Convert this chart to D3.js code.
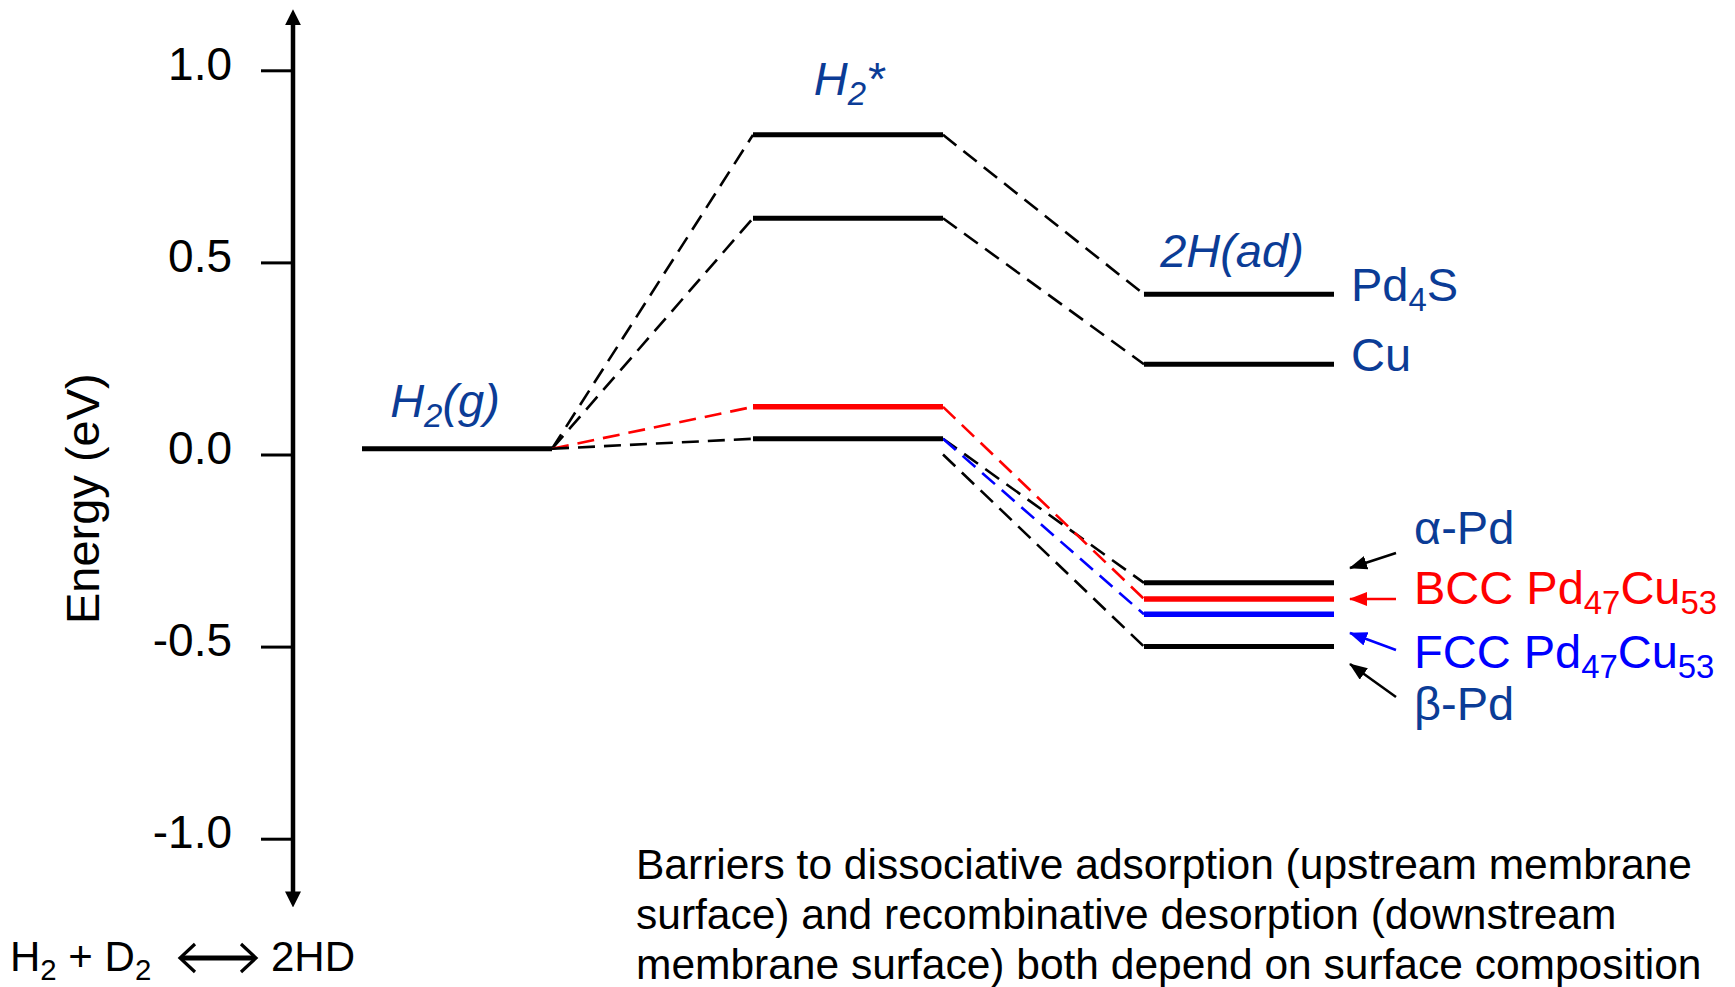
<!DOCTYPE html>
<html>
<head>
<meta charset="utf-8">
<script src="https://cdn.jsdelivr.net/npm/d3@7"></script>
<style>
  html, body { margin: 0; padding: 0; background: #fff; }
  svg { display: block; font-family: "Liberation Sans", Arial, Helvetica, sans-serif; }
</style>
</head>
<body>
<svg id="chart" width="1735" height="987"></svg>
<script>
// ---- data -------------------------------------------------------------
// Energy axis ticks (eV)
const tickValues = [1.0, 0.5, 0.0, -0.5, -1.0];
const tickLabels = ["1.0", "0.5", "0.0", "-0.5", "-1.0"];

// Reaction-coordinate stages
const stages = ["H2(g)", "H2*", "2H(ad)"];

// Gas-phase reference level (eV)
const gasLevel = [0.015];

// Molecularly adsorbed precursor (H2*) levels and the surface each belongs to
const barrierSurfaces = ["Pd4S", "Cu", "BCC", "Pd"];
const barrierLevels = [0.832, 0.615, 0.124, 0.041];

// Dissociatively adsorbed hydrogen (2H(ad)) level for each surface
const surfaces = ["Pd4S", "Cu", "α-Pd", "BCC", "FCC", "β-Pd"];
const adsorbedLevels = [0.417, 0.235, -0.334, -0.376, -0.416, -0.500];

// Energy at which each surface's connector leaves the H2* column
const connectorFrom = [0.832, 0.615, 0.041, 0.124, 0.041, 0.0];

// ---- styling helpers --------------------------------------------------
const LABEL_BLUE = "#0b3c96";
const LABEL_SIZE = 47;
const colorFor = s => s === "BCC" ? "#ff0000" : s === "FCC" ? "#0000ff" : "#000000";
const levelWidth = s => (s === "BCC" || s === "FCC") ? 5.5 : 5;

const svg = d3.select("#chart");

// ---- scales -----------------------------------------------------------
const y = d3.scaleLinear().domain([-1, 1]).range([838.7, 70.3]);
const x = d3.scaleBand().domain(stages).range([362, 1334]).paddingInner(0.514).paddingOuter(0);
const bw = x.bandwidth();

// ---- energy axis --------------------------------------------------------
const axisX = 293;
const defs = svg.append("defs");
defs.append("marker")
  .attr("id", "axisHead").attr("viewBox", "0 0 16 16")
  .attr("refX", 1).attr("refY", 8)
  .attr("markerWidth", 16).attr("markerHeight", 16)
  .attr("markerUnits", "userSpaceOnUse").attr("orient", "auto-start-reverse")
  .append("path").attr("d", "M0,0 L16,8 L0,16 Z").attr("fill", "#000");

const axisG = svg.append("g").attr("transform", `translate(${axisX},0)`)
  .call(d3.axisLeft(y)
    .tickValues(tickValues)
    .tickFormat((d, i) => tickLabels[i])
    .tickSize(32)
    .tickPadding(29));
axisG.select(".domain").remove();
axisG.selectAll(".tick line").attr("stroke", "#000").attr("stroke-width", 3);
axisG.selectAll(".tick text")
  .attr("fill", "#000")
  .attr("font-size", 46)
  .attr("font-family", "'Liberation Sans', Arial, sans-serif")
  .attr("dy", "0.2em");

svg.append("line")
  .attr("x1", axisX).attr("x2", axisX)
  .attr("y1", y(-1.14)).attr("y2", y(1.12))
  .attr("stroke", "#000").attr("stroke-width", 4.5)
  .attr("marker-start", "url(#axisHead)")
  .attr("marker-end", "url(#axisHead)");

svg.append("text")
  .attr("transform", `translate(99,${y(-0.115)}) rotate(-90)`)
  .attr("text-anchor", "middle")
  .attr("font-size", 47)
  .attr("fill", "#000")
  .text("Energy (eV)");

// ---- connectors (dashed) ----------------------------------------------
const dash = "17,9";
const connG = svg.append("g").attr("fill", "none").attr("stroke-width", 2.6).attr("stroke-dasharray", dash);

// gas phase -> H2*
connG.selectAll("line.ads")
  .data(barrierLevels)
  .join("line")
  .attr("class", "ads")
  .attr("x1", x("H2(g)") + bw).attr("y1", y(gasLevel[0]))
  .attr("x2", x("H2*")).attr("y2", d => y(d))
  .attr("stroke", (d, i) => colorFor(barrierSurfaces[i]));

// H2* -> 2H(ad)
connG.selectAll("line.des")
  .data(adsorbedLevels)
  .join("line")
  .attr("class", "des")
  .attr("x1", x("H2*") + bw).attr("y1", (d, i) => y(connectorFrom[i]))
  .attr("x2", x("2H(ad)")).attr("y2", d => y(d))
  .attr("stroke", (d, i) => colorFor(surfaces[i]));

// ---- energy levels (solid) ---------------------------------------------
const lvlG = svg.append("g");
lvlG.selectAll("line.gas").data(gasLevel).join("line")
  .attr("x1", x("H2(g)")).attr("x2", x("H2(g)") + bw)
  .attr("y1", d => y(d)).attr("y2", d => y(d))
  .attr("stroke", "#000").attr("stroke-width", 5);

lvlG.selectAll("line.ts").data(barrierLevels).join("line")
  .attr("x1", x("H2*")).attr("x2", x("H2*") + bw)
  .attr("y1", d => y(d)).attr("y2", d => y(d))
  .attr("stroke", (d, i) => colorFor(barrierSurfaces[i]))
  .attr("stroke-width", (d, i) => levelWidth(barrierSurfaces[i]));

lvlG.selectAll("line.ad").data(adsorbedLevels).join("line")
  .attr("x1", x("2H(ad)")).attr("x2", x("2H(ad)") + bw)
  .attr("y1", d => y(d)).attr("y2", d => y(d))
  .attr("stroke", (d, i) => colorFor(surfaces[i]))
  .attr("stroke-width", (d, i) => levelWidth(surfaces[i]));

// ---- rich text helper (subscripts) ----------------------------------------
function richText(sel, parts, size) {
  parts.forEach(([t, kind]) => {
    const ts = sel.append("tspan").text(t);
    if (kind === "sub") {
      ts.attr("font-size", size * 0.7).attr("dy", size * 0.22);
    } else if (kind === "up") {
      ts.attr("dy", -size * 0.22);
    }
  });
  return sel;
}

// ---- stage labels ----------------------------------------------------------
const stageLabel = {
  "H2(g)": { parts: [["H"], ["2", "sub"], ["(g)", "up"]], level: gasLevel[0], lift: 32, shift: -12 },
  "H2*": { parts: [["H"], ["2", "sub"], ["*", "up"]], level: d3.max(barrierLevels), lift: 40, shift: 1 },
  "2H(ad)": { parts: [["2H(ad)"]], level: d3.max(adsorbedLevels), lift: 27, shift: -7 }
};
stages.forEach(s => {
  const L = stageLabel[s];
  const t = svg.append("text")
    .attr("x", x(s) + bw / 2 + L.shift)
    .attr("y", y(L.level) - L.lift)
    .attr("text-anchor", "middle")
    .attr("font-size", LABEL_SIZE)
    .attr("font-style", "italic")
    .attr("fill", LABEL_BLUE);
  richText(t, L.parts, LABEL_SIZE);
});

// ---- surface labels ----------------------------------------------------------
const surfaceText = {
  "Pd4S": [["Pd"], ["4", "sub"], ["S", "up"]],
  "Cu": [["Cu"]],
  "α-Pd": [["α-Pd"]],
  "BCC": [["BCC Pd"], ["47", "sub"], ["Cu", "up"], ["53", "sub"]],
  "FCC": [["FCC Pd"], ["47", "sub"], ["Cu", "up"], ["53", "sub"]],
  "β-Pd": [["β-Pd"]]
};
const labelColor = s => s === "BCC" ? "#ff0000" : s === "FCC" ? "#0000ff" : LABEL_BLUE;
const rightEdge = x("2H(ad)") + bw;

// directly labelled levels
["Pd4S", "Cu"].forEach(s => {
  const i = surfaces.indexOf(s);
  const t = svg.append("text")
    .attr("x", rightEdge + 17)
    .attr("y", y(adsorbedLevels[i]) + 6.5)
    .attr("font-size", LABEL_SIZE)
    .attr("fill", labelColor(s));
  richText(t, surfaceText[s], LABEL_SIZE);
});

// callouts for the closely spaced levels
defs.selectAll("marker.call")
  .data(["#000000", "#ff0000", "#0000ff"])
  .join("marker")
  .attr("id", (d, i) => "callHead" + i)
  .attr("viewBox", "0 0 18 14").attr("refX", 17).attr("refY", 7)
  .attr("markerWidth", 18).attr("markerHeight", 14)
  .attr("markerUnits", "userSpaceOnUse").attr("orient", "auto")
  .append("path").attr("d", "M0,0 L18,7 L0,14 Z").attr("fill", d => d);

const callouts = [
  { s: "α-Pd", base: 544, from: 9, to: 24 },
  { s: "BCC", base: 604, from: -5, to: -5 },
  { s: "FCC", base: 668, from: -18, to: -35 },
  { s: "β-Pd", base: 720, from: -23, to: -56 }
];
const calloutX = 1414;
callouts.forEach(c => {
  const col = colorFor(c.s);
  const mk = col === "#ff0000" ? 1 : col === "#0000ff" ? 2 : 0;
  svg.append("line")
    .attr("x1", calloutX - 18).attr("y1", c.base + c.from)
    .attr("x2", calloutX - 64).attr("y2", c.base + c.to)
    .attr("stroke", col).attr("stroke-width", 2.5)
    .attr("marker-end", `url(#callHead${mk})`);
  const t = svg.append("text")
    .attr("x", calloutX).attr("y", c.base)
    .attr("font-size", LABEL_SIZE)
    .attr("fill", labelColor(c.s));
  richText(t, surfaceText[c.s], LABEL_SIZE);
});

// ---- caption -----------------------------------------------------------------
const captionLines = [
  "Barriers to dissociative adsorption (upstream membrane",
  "surface) and recombinative desorption (downstream",
  "membrane surface) both depend on surface composition"
];
svg.append("g").selectAll("text").data(captionLines).join("text")
  .attr("x", 636).attr("y", (d, i) => 879 + i * 50)
  .attr("font-size", 42.5).attr("fill", "#000")
  .text(d => d);

// ---- exchange reaction ---------------------------------------------------
const RX = 42;
const rx = svg.append("text").attr("x", 10).attr("y", 971).attr("font-size", RX).attr("fill", "#000");
richText(rx, [["H"], ["2", "sub"], [" + D", "up"], ["2", "sub"]], RX);
svg.append("text").attr("x", 271).attr("y", 971).attr("font-size", RX).attr("fill", "#000").text("2HD");
const ax0 = 180, ax1 = 256, ay = 958;
svg.append("path")
  .attr("d", `M${ax0 + 2},${ay} L${ax1 - 2},${ay}`)
  .attr("stroke", "#000").attr("stroke-width", 5).attr("fill", "none");
svg.append("path")
  .attr("d", `M${ax0 + 15},${ay - 14} L${ax0},${ay} L${ax0 + 15},${ay + 14} M${ax1 - 15},${ay - 14} L${ax1},${ay} L${ax1 - 15},${ay + 14}`)
  .attr("stroke", "#000").attr("stroke-width", 3.2).attr("fill", "none");
</script>
</body>
</html>
